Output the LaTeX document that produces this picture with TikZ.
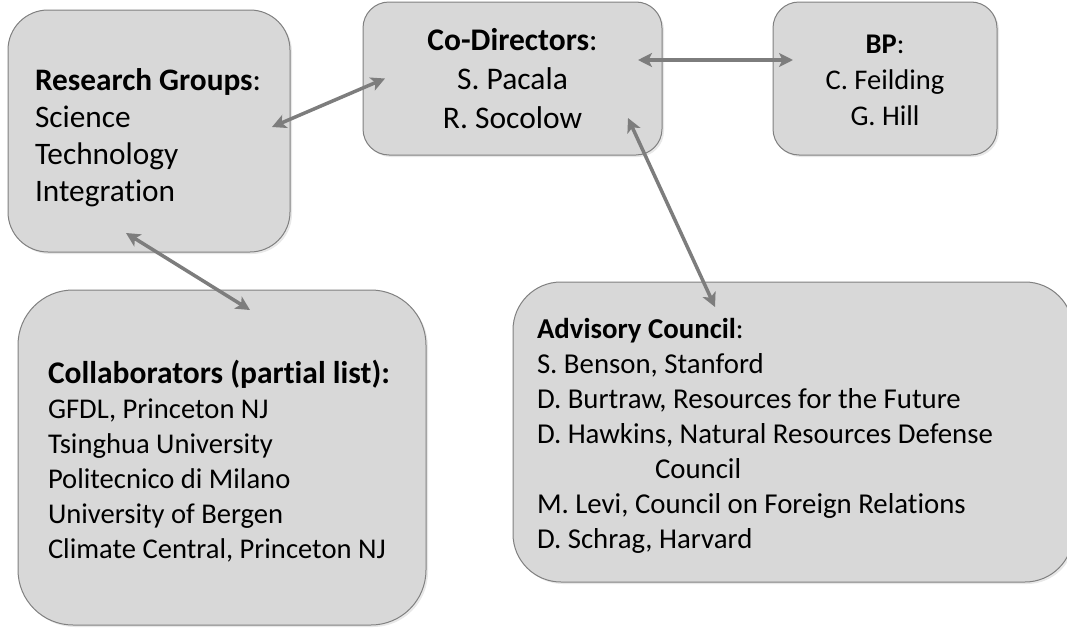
\documentclass[tikz,border=0pt]{standalone}
\usepackage{fontspec}
\setmainfont{Carlito}[Ligatures=NoCommon]
\usetikzlibrary{arrows.meta,calc,shadows}
\definecolor{boxfill}{RGB}{216,216,216}
\definecolor{boxline}{RGB}{128,128,128}
\definecolor{arrowgray}{RGB}{125,125,125}
\tikzset{
  box/.style={draw=boxline, line width=1pt, fill=boxfill, inner sep=0pt, outer sep=0pt,
    drop shadow={opacity=0.18, shadow xshift=2pt, shadow yshift=-2pt}},
  link/.style={draw=arrowgray, line width=3.5pt,
    {Stealth[length=14pt,width=14pt,inset=3.5pt]}-{Stealth[length=14pt,width=14pt,inset=3.5pt]}},
  txt/.style={inner sep=0pt, outer sep=0pt, text=black},
}
\begin{document}
\begin{tikzpicture}[x=1pt,y=-1pt]
\useasboundingbox (0,0) rectangle (1067,629);
\clip (0,0) rectangle (1067,629);

% boxes
\node[box, minimum width=282pt, minimum height=242pt, rounded corners=40pt] (rg) at (149,131) {};
\node[box, minimum width=299pt, minimum height=153pt, rounded corners=26pt] (cd) at (512.5,78.5) {};
\node[box, minimum width=224pt, minimum height=153pt, rounded corners=26pt] (bp) at (885,78.5) {};
\node[box, minimum width=408pt, minimum height=335pt, rounded corners=55pt] (co) at (222,457.5) {};
\node[box, minimum width=560pt, minimum height=300pt, rounded corners=48pt] (ac) at (793,432) {};

% texts (anchor = baseline of the last line)
\node[txt, anchor=base west, align=left, font=\fontsize{31.3}{37}\selectfont] (rgt) at (35,201)
  {\textbf{Research Groups}:\\Science\\Technology\\Integration};
\node[txt, anchor=base, align=center, font=\fontsize{31.5}{39}\selectfont] (cdt) at (512.5,128)
  {\textbf{Co-Directors}:\\S. Pacala\\R. Socolow};
\node[txt, anchor=base, align=center, font=\fontsize{28.5}{36}\selectfont] (bpt) at (885,125)
  {\textbf{BP}:\\C. Feilding\\G. Hill};
\node[txt, anchor=base west, font=\fontsize{31.5}{37}\selectfont\bfseries] (coh) at (48,383)
  {Collaborators (partial list):};
\node[txt, anchor=base west, align=left, font=\fontsize{28.6}{35}\selectfont] (cot) at (48,558)
  {GFDL, Princeton NJ\\Tsinghua University\\Politecnico di Milano\\University of Bergen\\Climate Central, Princeton NJ};
\node[txt, anchor=base west, align=left, font=\fontsize{28.8}{35}\selectfont] (act) at (537,548)
  {\textbf{Advisory Council}:\\S. Benson, Stanford\\D. Burtraw, Resources for the Future\\D. Hawkins, Natural Resources Defense\\\hspace*{118pt}Council\\M. Levi, Council on Foreign Relations\\D. Schrag, Harvard};

% connector end points
\coordinate (p1) at ($(rg.east)+(-18,-4)$);
\coordinate (q1) at ($(cd.west)+(22,0)$);
\coordinate (p2) at ($(cd.east)+(-24,-18.5)$);
\coordinate (q2) at ($(bp.west)+(20,-18.5)$);
\coordinate (p3) at ($(rg.south)+(-23,-19)$);
\coordinate (q3) at ($(co.north)+(28,20)$);
\coordinate (p4) at ($(cd.south)+(115.5,-37)$);
\coordinate (q4) at ($(ac.north)+(-78,25)$);

\draw[link] (p1) -- (q1);
\draw[link] (p2) -- (q2);
\draw[link] (p3) -- (q3);
\draw[link] (p4) -- (q4);
\end{tikzpicture}
\end{document}
